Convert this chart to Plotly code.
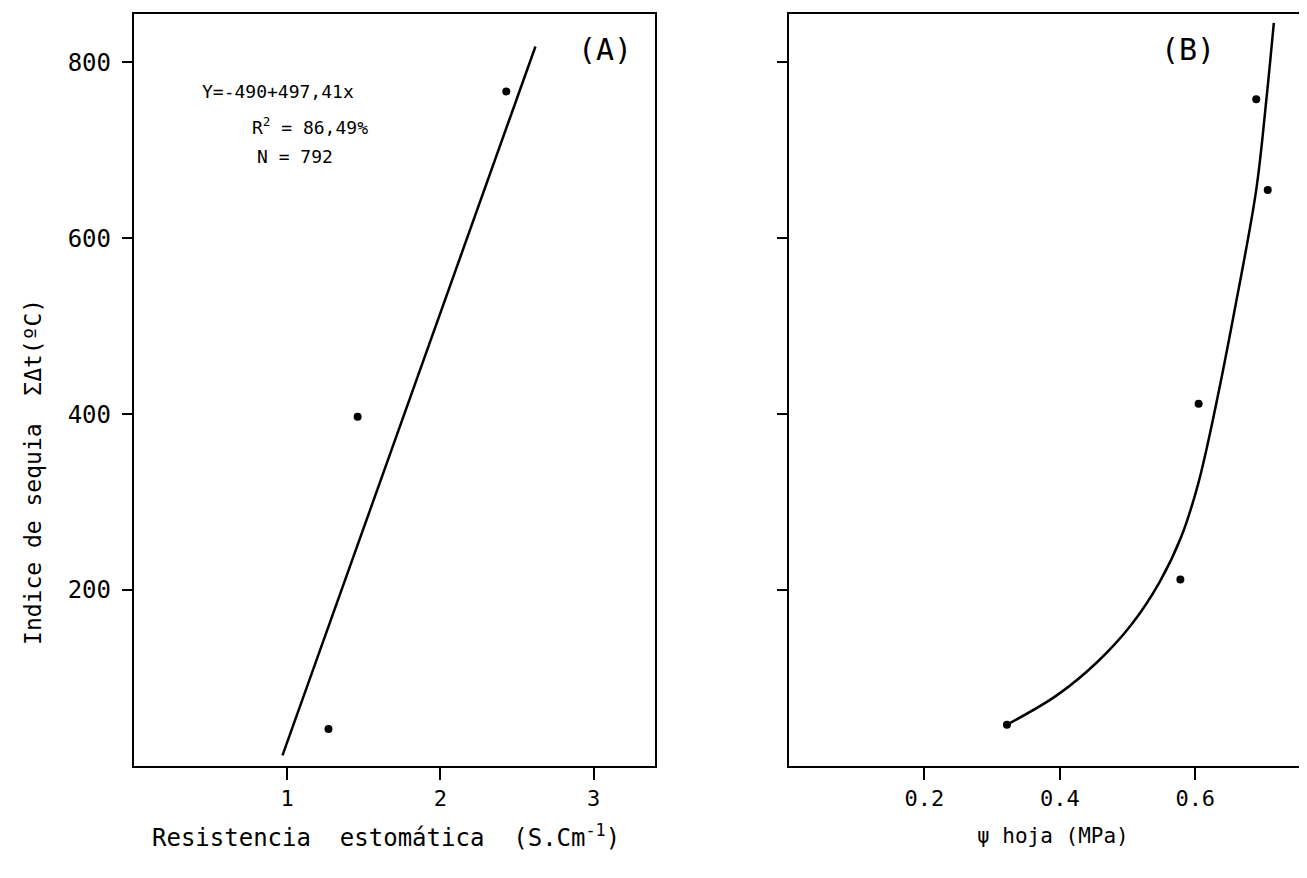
import plotly.graph_objects as go

# Panel A data: stomatal resistance vs drought index
resist_x = [1.27, 1.46, 2.43]
resist_y = [42, 397, 767]
fitA_x = [0.97, 2.62]
fitA_y = [12, 818]

# Panel B data: leaf water potential vs drought index
psi_x = [0.322, 0.578, 0.605, 0.690, 0.707]
psi_y = [47, 212, 412, 758, 655]
fitB_x = [0.322, 0.395, 0.455, 0.505, 0.548, 0.579, 0.604, 0.631, 0.661, 0.690, 0.705, 0.716]
fitB_y = [47, 80, 118, 160, 210, 260, 320, 412, 530, 655, 758, 845]

yticks = [200, 400, 600, 800]
xticksA = [1, 2, 3]
xticksB = [0.2, 0.4, 0.6]

FONT = "DejaVu Sans Mono"
OFF = 8  # page body margin
W, H = 1299, 870


def fx(px):
    return (px - OFF) / W


def fy(py):
    return 1 - (py - OFF) / H


fig = go.Figure()

fig.add_trace(go.Scatter(x=fitA_x, y=fitA_y, mode="lines",
                         line=dict(color="black", width=2.5),
                         xaxis="x", yaxis="y", showlegend=False))
fig.add_trace(go.Scatter(x=resist_x, y=resist_y, mode="markers",
                         marker=dict(color="black", size=8),
                         xaxis="x", yaxis="y", showlegend=False))
fig.add_trace(go.Scatter(x=fitB_x, y=fitB_y, mode="lines",
                         line=dict(color="black", width=2.5, shape="spline", smoothing=1.0),
                         xaxis="x2", yaxis="y2", showlegend=False))
fig.add_trace(go.Scatter(x=psi_x, y=psi_y, mode="markers",
                         marker=dict(color="black", size=8),
                         xaxis="x2", yaxis="y2", showlegend=False))

common_axis = dict(showgrid=False, zeroline=False, showline=True, linecolor="black",
                   linewidth=2, mirror=True, ticks="outside", tickwidth=1.5,
                   tickcolor="black")

fig.update_layout(
    width=W, height=H,
    margin=dict(l=0, r=0, t=0, b=0),
    paper_bgcolor="white", plot_bgcolor="white",
    xaxis=dict(domain=[fx(134), fx(656)], range=[0, 3.4], tickvals=xticksA,
               anchor="y", ticklen=12, tickfont=dict(family=FONT, size=22, color="black"),
               **common_axis),
    yaxis=dict(domain=[fy(766), fy(14)], range=[0, 855], tickvals=yticks,
               anchor="x", ticklen=10, ticklabelstandoff=6,
               tickfont=dict(family=FONT, size=24, color="black"), **common_axis),
    xaxis2=dict(domain=[fx(790), 1.0], range=[0, 0.762], tickvals=xticksB,
                tickformat=".1f", anchor="y2", ticklen=12,
                tickfont=dict(family=FONT, size=22, color="black"), **common_axis),
    yaxis2=dict(domain=[fy(766), fy(14)], range=[0, 855], tickvals=yticks,
                showticklabels=False, anchor="x2", ticklen=10, **common_axis),
)

ann_font = dict(family=FONT, size=18, color="black")
annotations = [
    dict(text="Y=-490+497,41x", x=fx(200), y=fy(92), xanchor="left", yanchor="middle",
         xref="paper", yref="paper", showarrow=False, font=ann_font),
    dict(text="R<sup>2</sup> = 86,49%", x=fx(250), y=fy(126), xanchor="left", yanchor="middle",
         xref="paper", yref="paper", showarrow=False, font=ann_font),
    dict(text="N = 792", x=fx(255), y=fy(157), xanchor="left", yanchor="middle",
         xref="paper", yref="paper", showarrow=False, font=ann_font),
    dict(text="(A)", x=fx(606), y=fy(50), xanchor="center", yanchor="middle",
         xref="paper", yref="paper", showarrow=False, font=dict(family=FONT, size=30, color="black")),
    dict(text="(B)", x=fx(1190), y=fy(50), xanchor="center", yanchor="middle",
         xref="paper", yref="paper", showarrow=False, font=dict(family=FONT, size=30, color="black")),
    dict(text="Indice de sequia  ΣΔt(ºC)", x=fx(33), y=fy(472), xanchor="center", yanchor="middle",
         textangle=-90, xref="paper", yref="paper", showarrow=False,
         font=dict(family=FONT, size=23, color="black")),
    dict(text="Resistencia  estomática  (S.Cm<sup>-1</sup>)", x=fx(387), y=fy(836),
         xanchor="center", yanchor="middle", xref="paper", yref="paper", showarrow=False,
         font=dict(family=FONT, size=24, color="black")),
    dict(text="ψ hoja (MPa)", x=fx(1055), y=fy(836),
         xanchor="center", yanchor="middle", xref="paper", yref="paper", showarrow=False,
         font=dict(family=FONT, size=21, color="black")),
]
fig.update_layout(annotations=annotations)

fig.write_html("out.html")
